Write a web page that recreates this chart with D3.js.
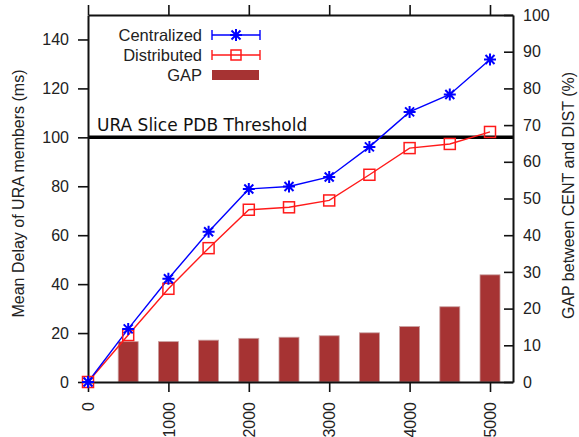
<!DOCTYPE html>
<html><head><meta charset="utf-8">
<script src="https://cdn.jsdelivr.net/npm/d3@7"></script>
<style>
body{margin:0;background:#fff;}
svg{display:block;}
</style></head>
<body><svg id="c" width="579" height="437"></svg>
<script>
const xValues = [0, 500, 1000, 1500, 2000, 2500, 3000, 3500, 4000, 4500, 5000];
const centralized = [0, 21.7, 42.2, 61.4, 78.9, 79.9, 83.8, 96.1, 110.4, 117.5, 131.8];
const distributed = [0, 19.2, 38.1, 54.7, 70.4, 71.4, 74.2, 84.7, 95.6, 97.3, 102.2];
const gapX = [500, 1000, 1500, 2000, 2500, 3000, 3500, 4000, 4500, 5000];
const gapValues = [11.0, 11.0, 11.4, 11.9, 12.2, 12.6, 13.4, 15.1, 20.5, 29.2];
const xTicks = [0, 1000, 2000, 3000, 4000, 5000];
const yLeftTicks = [0, 20, 40, 60, 80, 100, 120, 140];
const yRightTicks = [0, 10, 20, 30, 40, 50, 60, 70, 80, 90, 100];
const threshold = 100;
const legendNames = ["Centralized", "Distributed", "GAP"];

const svg = d3.select("#c");
const L = 88, R = 513, T = 15, B = 382;
const x = d3.scaleLinear().domain([0, 5286]).range([L, R]);
const yL = d3.scaleLinear().domain([0, 150]).range([B, T]);
const yR = d3.scaleLinear().domain([0, 100]).range([B, T]);
const font = "'Liberation Sans', Arial, sans-serif";
const blue = "#0000ff", red = "#ff1a1a", brown = "#a63333";

// bars
svg.append("g").selectAll("rect").data(gapX).join("rect")
  .attr("x", d => x(d) - 10).attr("width", 20)
  .attr("y", (d, i) => yR(gapValues[i])).attr("height", (d, i) => B - yR(gapValues[i]))
  .attr("fill", brown).attr("stroke", "#c9a0a0").attr("stroke-width", 0.8);

// threshold
svg.append("line").attr("x1", L).attr("x2", R).attr("y1", yL(threshold)).attr("y2", yL(threshold))
  .attr("stroke", "#000").attr("stroke-width", 3.5);
svg.append("text").attr("x", 97).attr("y", 130.5).text("URA Slice PDB Threshold")
  .attr("font-family", "'DejaVu Sans', sans-serif").attr("font-size", 17).attr("fill", "#111");

// axes
function styleAxis(g) {
  g.selectAll("path.domain").attr("stroke", "#111").attr("stroke-width", 2);
  g.selectAll(".tick line").attr("stroke", "#111").attr("stroke-width", 1.6);
  g.selectAll("text").attr("font-family", font).attr("font-size", 16).attr("fill", "#222");
}
const gB = svg.append("g").attr("transform", `translate(0,${B})`)
  .call(d3.axisBottom(x).tickValues(xTicks).tickSizeInner(10).tickSizeOuter(0).tickFormat(d3.format("d")));
styleAxis(gB);
gB.selectAll("text").attr("transform", "rotate(-90)").attr("text-anchor", "end")
  .attr("x", -20).attr("y", 0).attr("dy", "0.35em");
const gT = svg.append("g").attr("transform", `translate(0,${T})`)
  .call(d3.axisTop(x).tickValues(xTicks).tickSizeInner(10).tickSizeOuter(0).tickFormat(""));
styleAxis(gT);
const gL = svg.append("g").attr("transform", `translate(${L},0)`)
  .call(d3.axisLeft(yL).tickValues(yLeftTicks).tickSizeInner(10).tickSizeOuter(0).tickPadding(9));
styleAxis(gL);
const gR = svg.append("g").attr("transform", `translate(${R},0)`)
  .call(d3.axisRight(yR).tickValues(yRightTicks).tickSizeInner(-9).tickSizeOuter(0).tickPadding(10));
styleAxis(gR);

// axis titles
svg.append("text").attr("transform", `translate(24,${(T + B) / 2 - 5}) rotate(-90)`)
  .attr("text-anchor", "middle").attr("font-family", font).attr("font-size", 16).attr("fill", "#222")
  .text("Mean Delay of URA members (ms)");
svg.append("text").attr("transform", `translate(574,${(T + B) / 2 - 3}) rotate(-90)`)
  .attr("text-anchor", "middle").attr("font-family", font).attr("font-size", 16).attr("fill", "#222")
  .text("GAP between CENT and DIST (%)");

// markers
function star(g, cx, cy, s, color) {
  const p = `M${cx - s},${cy}H${cx + s}M${cx},${cy - s}V${cy + s}` +
    `M${cx - s * 0.75},${cy - s * 0.75}L${cx + s * 0.75},${cy + s * 0.75}` +
    `M${cx - s * 0.75},${cy + s * 0.75}L${cx + s * 0.75},${cy - s * 0.75}`;
  g.append("path").attr("d", p).attr("stroke", color).attr("stroke-width", 2).attr("fill", "none");
}
function square(g, cx, cy, s, color) {
  g.append("rect").attr("x", cx - s).attr("y", cy - s).attr("width", 2 * s).attr("height", 2 * s)
    .attr("fill", "none").attr("stroke", color).attr("stroke-width", 1.5);
}

const line = d3.line().x((d, i) => x(xValues[i])).y(d => yL(d));
svg.append("path").datum(distributed).attr("d", line).attr("fill", "none").attr("stroke", red).attr("stroke-width", 1.4);
svg.append("path").datum(centralized).attr("d", line).attr("fill", "none").attr("stroke", blue).attr("stroke-width", 1.4);
const gm = svg.append("g");
distributed.forEach((d, i) => square(gm, x(xValues[i]), yL(d), 5.5, red));
centralized.forEach((d, i) => star(gm, x(xValues[i]), yL(d), 6, blue));

// legend
const lg = svg.append("g");
const ly = [35, 55, 75];
legendNames.forEach((n, i) => {
  lg.append("text").attr("x", 202).attr("y", ly[i]).attr("dy", "0.35em").attr("text-anchor", "end")
    .attr("font-family", font).attr("font-size", 16.5).attr("fill", "#222").text(n);
});
[[blue, 0], [red, 1]].forEach(([c, i]) => {
  const y0 = ly[i];
  lg.append("path").attr("d", `M212,${y0}H260M212,${y0 - 5}V${y0 + 5}M260,${y0 - 5}V${y0 + 5}`)
    .attr("stroke", c).attr("stroke-width", 1.4).attr("fill", "none");
});
star(lg, 236, ly[0], 6, blue);
square(lg, 236, ly[1], 5, red);
lg.append("rect").attr("x", 212).attr("y", ly[2] - 5).attr("width", 47).attr("height", 10).attr("fill", brown);
</script></body></html>
